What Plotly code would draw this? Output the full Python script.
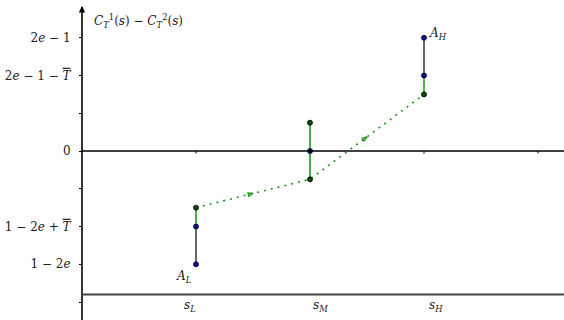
import math
import plotly.graph_objects as go

# ---- data ----
s_vals = [1, 2, 3]
s_labels = ["<i>s</i><sub><i>L</i></sub>", "<i>s</i><sub><i>M</i></sub>", "<i>s</i><sub><i>H</i></sub>"]

TBAR = "<span style=\"text-decoration:overline\"><i>T</i></span>"
y_tick_vals = [3, 2, 1, 0, -1, -2, -3, -4]
y_tick_text = ["2<i>e</i> − 1", "2<i>e</i> − 1 − " + TBAR, "", "0", "",
               "1 − 2<i>e</i> + " + TBAR, "1 − 2<i>e</i>", ""]

black_x = [1, 3]
black_lo = [-3, 2]
black_hi = [-2, 3]

green_x = [1, 2, 3]
green_lo = [-2, -0.75, 1.5]
green_hi = [-1.5, 0.75, 2]

blue_x = [1, 1, 2, 3, 3]
blue_y = [-3, -2, 0, 2, 3]

dark_x = [1, 2, 2, 3]
dark_y = [-1.5, 0.75, -0.75, 1.5]

path_x = [1, 2, 3]
path_y = [-1.5, -0.75, 1.5]

bottom_axis_y = -3.8

# ---- geometry ----
W, H = 564, 320
x0px, xunit = 82, 114.0
y0px, yunit = 151, 37.75
x_range = [-x0px / xunit, (W - x0px) / xunit]
y_range = [(y0px - H) / yunit, y0px / yunit]

GREEN = "#1e961e"
FONT = "DejaVu Serif"
FS = 12
TXT = "#222222"

fig = go.Figure()

# vertical segments
for x, lo, hi in zip(black_x, black_lo, black_hi):
    fig.add_trace(go.Scatter(x=[x, x], y=[lo, hi], mode="lines",
                             line=dict(color="#444444", width=1.6), hoverinfo="skip"))
for x, lo, hi in zip(green_x, green_lo, green_hi):
    fig.add_trace(go.Scatter(x=[x, x], y=[lo, hi], mode="lines",
                             line=dict(color=GREEN, width=1.6), hoverinfo="skip"))

# dotted path
fig.add_trace(go.Scatter(x=path_x, y=path_y, mode="lines",
                         line=dict(color=GREEN, width=1.6, dash="2px,5px"), hoverinfo="skip"))

# arrowheads at midpoints of path segments (oriented along the segment on screen)
for i in range(len(path_x) - 1):
    mx = (path_x[i] + path_x[i + 1]) / 2
    my = (path_y[i] + path_y[i + 1]) / 2
    dxp = (path_x[i + 1] - path_x[i]) * xunit
    dyp = (path_y[i + 1] - path_y[i]) * yunit
    ang = math.degrees(math.atan2(dxp, dyp))
    fig.add_trace(go.Scatter(
        x=[mx], y=[my], mode="markers",
        marker=dict(symbol="arrow-open", size=5, angle=ang,
                    color=GREEN, line=dict(color=GREEN, width=1.4)),
        hoverinfo="skip"))

# points
fig.add_trace(go.Scatter(x=dark_x, y=dark_y, mode="markers",
                         marker=dict(size=5, color="#0a4a0a", line=dict(color="black", width=0.8)),
                         hoverinfo="skip"))
fig.add_trace(go.Scatter(x=blue_x, y=blue_y, mode="markers",
                         marker=dict(size=5, color="#1010a0", line=dict(color="black", width=0.8)),
                         hoverinfo="skip"))

# axes lines as shapes
fig.add_shape(type="line", x0=0, x1=0, y0=y_range[0], y1=(y0px - 7) / yunit,
              line=dict(color="black", width=1.6))
fig.add_shape(type="line", x0=0, x1=x_range[1], y0=0, y1=0,
              line=dict(color="black", width=1.3))
fig.add_shape(type="line", x0=0, x1=x_range[1], y0=bottom_axis_y, y1=bottom_axis_y,
              line=dict(color="#444444", width=2))
# arrowhead on y axis
fig.add_annotation(x=0, y=(y0px - 6) / yunit, ax=0, ay=(y0px - 12) / yunit,
                   xref="x", yref="y", axref="x", ayref="y", text="",
                   showarrow=True, arrowhead=2, arrowsize=0.8, arrowwidth=1.6,
                   arrowcolor="black")
# small ticks on zero line
for x in [1, 2, 3, 4]:
    fig.add_shape(type="line", x0=x, x1=x, y0=0, y1=-2.5 / yunit,
                  line=dict(color="black", width=1))

# s labels
for x, t, dx in zip(s_vals, s_labels, [-6, 10, 12]):
    fig.add_annotation(x=x, y=bottom_axis_y, text=t, showarrow=False,
                       xshift=dx, yshift=-12, font=dict(family=FONT, size=FS, color=TXT))

# point labels
fig.add_annotation(x=1, y=-3, text="<i>A</i><sub><i>L</i></sub>", showarrow=False,
                   xshift=-12, yshift=-13, font=dict(family=FONT, size=FS, color=TXT))
fig.add_annotation(x=3, y=3, text="<i>A</i><sub><i>H</i></sub>", showarrow=False,
                   xshift=14, yshift=4, font=dict(family=FONT, size=FS, color=TXT))

# title label
fig.add_annotation(x=0, y=y0px / yunit,
                   text="<i>C</i><sub><i>T</i></sub><sup>1</sup>(<i>s</i>) − <i>C</i><sub><i>T</i></sub><sup>2</sup>(<i>s</i>)",
                   xref="x", yref="y", xanchor="left", yanchor="top", showarrow=False,
                   xshift=10, yshift=-10, font=dict(family=FONT, size=FS, color=TXT))

fig.update_layout(
    width=W, height=H, margin=dict(l=0, r=0, t=0, b=0),
    paper_bgcolor="white", plot_bgcolor="white", showlegend=False,
    font=dict(family=FONT),
    xaxis=dict(range=x_range, visible=False, fixedrange=True),
    yaxis=dict(range=y_range, anchor="free", position=x0px / W, showline=False,
               showgrid=False, zeroline=False, ticks="outside", ticklen=3,
               tickcolor="black", tickwidth=1, tickvals=y_tick_vals, ticktext=y_tick_text,
               tickfont=dict(family=FONT, size=FS, color=TXT), ticklabelstandoff=6,
               fixedrange=True),
)

fig.write_html("out.html", config={"displayModeBar": False},
               post_script="document.body.style.margin='0';document.body.style.overflow='hidden';")
